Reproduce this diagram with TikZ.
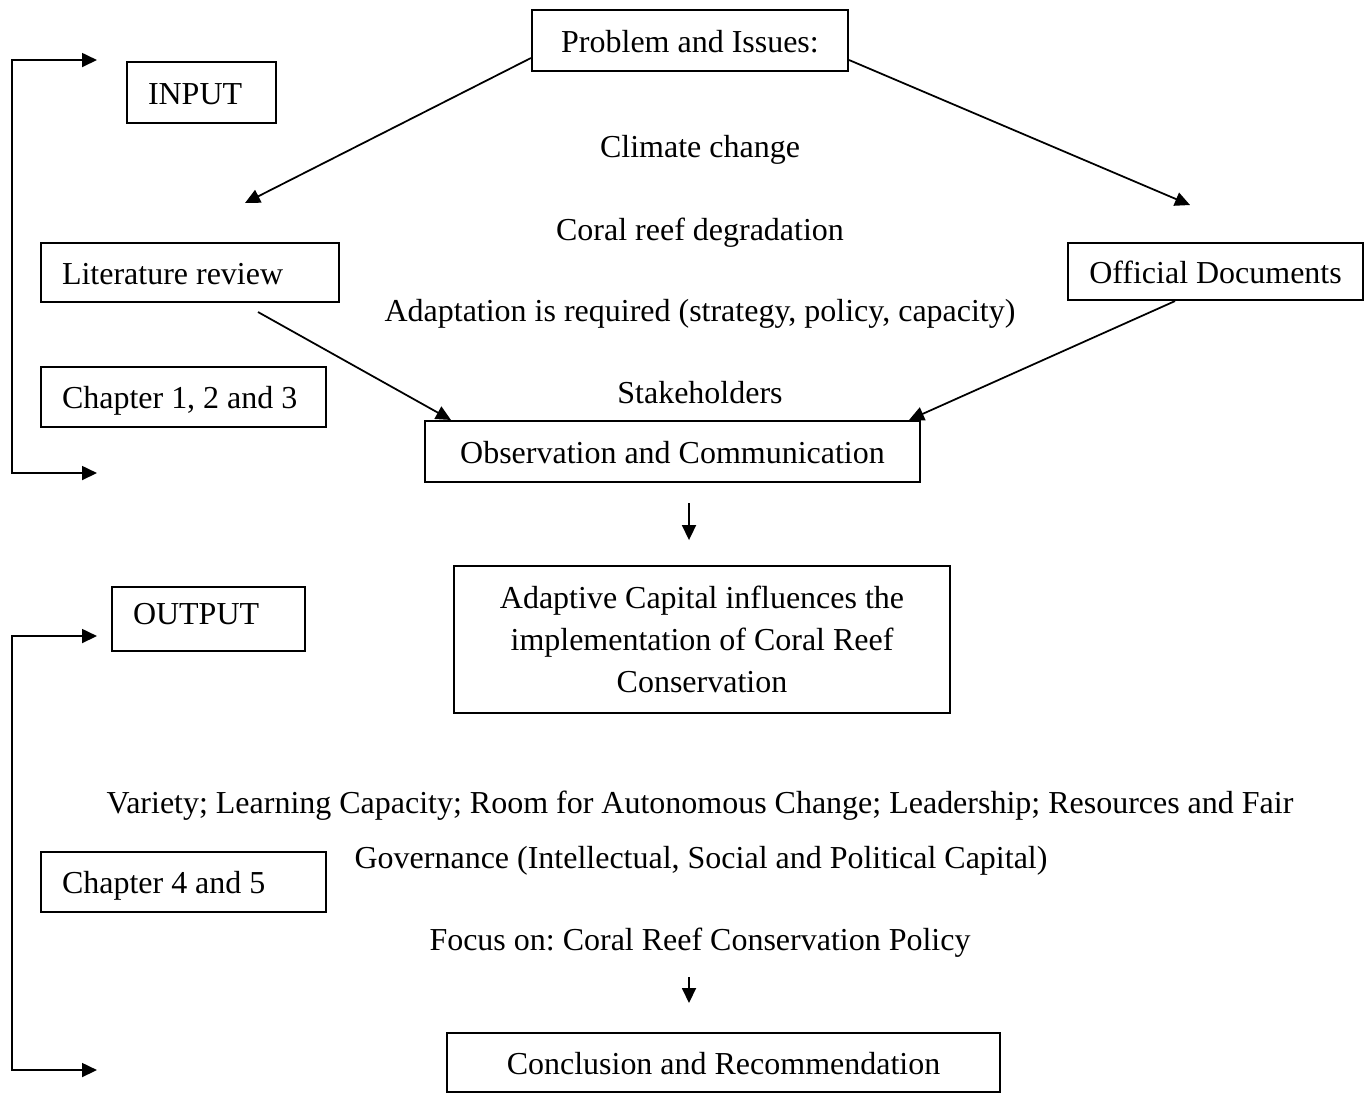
\documentclass[tikz,border=0pt]{standalone}
\usepackage{fontspec}
\setmainfont{Liberation Serif}
\usetikzlibrary{arrows.meta}
\tikzset{
  hd/.tip={Triangle[length=0.15cm,width=0.14cm]},
  box/.style={draw, line width=0.6pt, inner xsep=0.21cm, inner ysep=0pt},
  oneline/.style={text height=0.66em, text depth=0pt},
  flow/.style={line width=0.5pt, -hd},
  bracket/.style={line width=0.5pt, hd-hd},
}

\begin{document}
\begin{tikzpicture}[font=\fontsize{9.1}{11.9}\selectfont\frenchspacing]
  \useasboundingbox (0,0) rectangle (13.66,-10.93);
  % --- boxes of the input part --------------------------------------------
  \node[box,oneline,minimum width=3.16cm,minimum height=0.61cm] (prob) at (6.90,-0.405) {Problem and Issues:};
  \node[box,oneline,align=flush left,text width=1.07cm,minimum height=0.61cm] (inp) at (2.015,-0.925) {INPUT};
  \node[box,oneline,align=flush left,text width=2.56cm,minimum height=0.59cm] (lit) at (1.90,-2.725) {Literature review};
  \node[box,oneline,align=flush left,text width=2.43cm,minimum height=0.60cm] (ch13) at (1.835,-3.97) {Chapter 1, 2 and 3};
  \node[box,oneline,minimum width=2.95cm,minimum height=0.57cm] (off) at (12.155,-2.715) {Official Documents};
  \node[box,oneline,minimum width=4.95cm,minimum height=0.61cm] (obs) at (6.725,-4.515) {Observation and Communication};
  % the issues, one per line
  \foreach \nm/\yy/\txt in {clim/-1.577/{Climate change}, degr/-2.40/{Coral reef degradation},
      adpt/-3.217/{Adaptation is required (strategy, policy, capacity)}, stak/-4.03/{Stakeholders}} {
     \node[anchor=base] (\nm) at (7.00,\yy) {\txt};
  }
  % --- boxes of the output part -------------------------------------------
  \node[box,align=center,minimum width=4.96cm,minimum height=1.47cm] (adap) at (7.02,-6.395)
     {Adaptive Capital influences the\\implementation of Coral Reef\\Conservation};
  \node[box,oneline,text depth=0.12cm,align=flush left,text width=1.51cm,minimum height=0.64cm] (outp) at (2.085,-6.19) {OUTPUT};
  \node[box,oneline,align=flush left,text width=2.43cm,minimum height=0.60cm] (ch45) at (1.835,-8.82) {Chapter 4 and 5};
  \node[box,oneline,minimum width=5.53cm,minimum height=0.59cm] (concl) at (7.235,-10.625) {Conclusion and Recommendation};
  \node[anchor=base] (var) at (7.00,-8.13) {Variety; Learning Capacity; Room for Autonomous Change; Leadership; Resources and Fair};
  \node[anchor=base] (gov) at (7.01,-8.68) {Governance (Intellectual, Social and Political Capital)};
  \node[anchor=base] (focus) at (7.00,-9.50) {Focus on: Coral Reef Conservation Policy};
  % --- connectors ---------------------------------------------------------
  \coordinate (litin) at (2.45,-2.03);
  \coordinate (offin) at (11.90,-2.05);
  \coordinate (litout) at (2.58,-3.12);
  \coordinate (fdown) at (6.89,-9.77);
  \draw[flow] ([yshift=-0.175cm]prob.west) -- (litin);
  \draw[flow] ([yshift=-0.195cm]prob.east) -- (offin);
  \draw[flow] (litout) -- ([xshift=0.27cm]obs.north west);
  \draw[flow] ([xshift=-0.405cm]off.south) -- ([xshift=-0.12cm]obs.north east);
  \draw[flow] ([xshift=0.165cm,yshift=-0.20cm]obs.south) -- ++(0,-0.37);
  \draw[flow] (fdown) -- ++(0,-0.26);
  % side brackets: input (top) and output (bottom)
  \foreach \nm/\ya/\yb in {in/-0.60/-4.73, out/-6.36/-10.70} {
     \coordinate (\nm top) at (0.97,\ya);
     \coordinate (\nm bot) at (0.97,\yb);
     \draw[bracket] (\nm top) -| (0.12,\yb) -- (\nm bot);
  }
\end{tikzpicture}
\end{document}
